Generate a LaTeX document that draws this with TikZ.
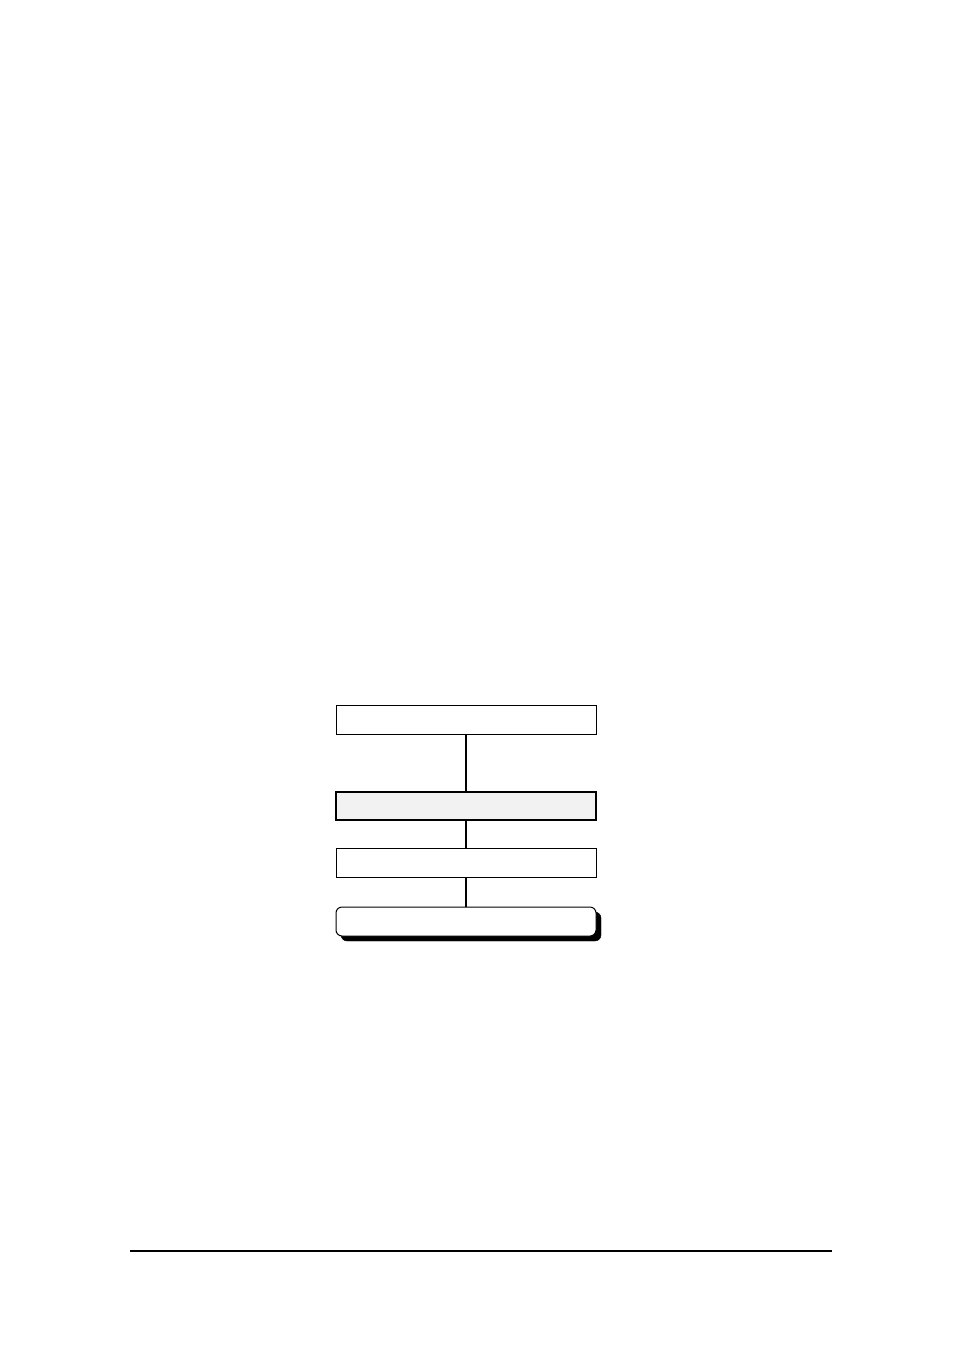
\documentclass[tikz,border=0pt]{standalone}
\usetikzlibrary{positioning}
\definecolor{boxgray}{RGB}{242,242,242}
\tikzset{
  plainbox/.style={draw=black, line width=1pt, fill=white, minimum width=260pt, minimum height=29pt, inner sep=0pt},
  graybox/.style={draw=black, line width=2pt, fill=boxgray, minimum width=260pt, minimum height=28pt, inner sep=0pt},
  roundbox/.style={draw=black, line width=1pt, fill=white, rounded corners=6pt, minimum width=260pt, minimum height=29pt, inner sep=0pt},
  shadowbox/.style={draw=black, fill=black, rounded corners=6pt, minimum width=260pt, minimum height=29pt, inner sep=0pt},
  conn/.style={draw=black, line width=2pt}
}
\begin{document}
\begin{tikzpicture}[x=1pt,y=-1pt]
\useasboundingbox (0,0) rectangle (954,1351);
\node[plainbox] (b1) at (466,719.5) {};
\node[graybox] (b2) at (466,806) {};
\node[plainbox] (b3) at (466,863) {};
\node[shadowbox] (sh) at (471,926.5) {};
\node[roundbox] (b4) at (466,921.5) {};
\draw[conn] (b1.south) -- (b2.north);
\draw[conn] (b2.south) -- (b3.north);
\draw[conn] (b3.south) -- (b4.north);
\coordinate (rl) at (130,1251);
\coordinate (rr) at (832,1251);
\draw[line width=2pt] (rl) -- (rr);
\end{tikzpicture}
\end{document}
